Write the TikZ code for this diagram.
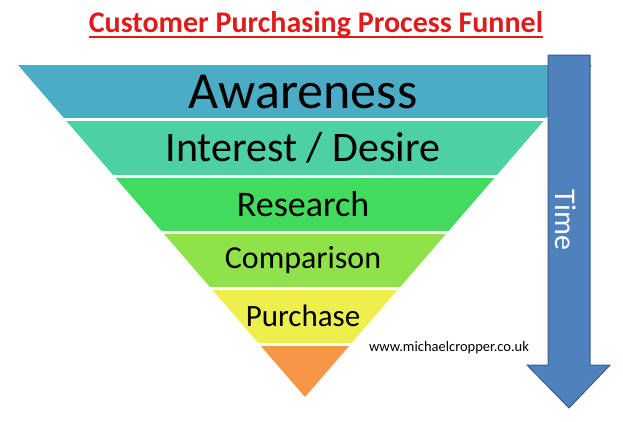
\documentclass[tikz,border=0pt]{standalone}
\usepackage{fontspec}
\setmainfont{Carlito}
\definecolor{cA}{HTML}{4BACC6}
\definecolor{cB}{HTML}{4CD0A4}
\definecolor{cC}{HTML}{43DB5E}
\definecolor{cD}{HTML}{8FE24A}
\definecolor{cE}{HTML}{EEEE4C}
\definecolor{cF}{HTML}{F79646}
\definecolor{arr}{HTML}{4F81BD}
\definecolor{arrb}{HTML}{385D8A}
\definecolor{ttl}{HTML}{E31A1C}
\begin{document}
\begin{tikzpicture}[x=1pt,y=-1pt,
  lbl/.style={inner sep=0pt,anchor=center}]
\useasboundingbox (0,0) rectangle (623,421);
\fill[cA] (18,65) -- (592,65) -- (545.3,119) -- (64.7,119) -- cycle;
\fill[cB] (64.7,119) -- (545.3,119) -- (496.1,176) -- (113.9,176) -- cycle;
\fill[cC] (113.9,176) -- (496.1,176) -- (447.7,232) -- (162.3,232) -- cycle;
\fill[cD] (162.3,232) -- (447.7,232) -- (399.3,288) -- (210.7,288) -- cycle;
\fill[cE] (210.7,288) -- (399.3,288) -- (350.9,344) -- (259.1,344) -- cycle;
\fill[cF] (259.1,344) -- (350.9,344) -- (305,397) -- cycle;
\foreach \y in {119,176,232,288,344} \draw[white,line width=3pt] (0,\y) -- (600,\y);
\draw[arrb,fill=arr,line width=1pt] (548,55) -- (590,55) -- (590,365) -- (610,365) -- (569,408) -- (527,365) -- (548,365) -- cycle;
\node[lbl] (aw) at (303,92) {\fontsize{52}{52}\selectfont Awareness};
\node[lbl] (in) at (303,148) {\fontsize{42}{42}\selectfont Interest / Desire};
\node[lbl] (re) at (303,204) {\fontsize{36}{36}\selectfont Research};
\node[lbl] (co) at (303,260) {\fontsize{32}{32}\selectfont Comparison};
\node[lbl] (pu) at (303,316) {\fontsize{31}{31}\selectfont Purchase};
\node[lbl,rotate=-90,white] (ti) at (566,220) {\fontsize{30}{30}\selectfont Time};
\node[lbl] (ww) at (449,348) {\fontsize{14.5}{14.5}\selectfont www.michaelcropper.co.uk};
\node[lbl,ttl,anchor=base] (tt) at (316,32) {\fontsize{30}{30}\selectfont\bfseries Customer Purchasing Process Funnel};
\draw[ttl,line width=2pt] (tt.base west) ++(0,5) -- ([yshift=-5pt]tt.base east);
\end{tikzpicture}
\end{document}
